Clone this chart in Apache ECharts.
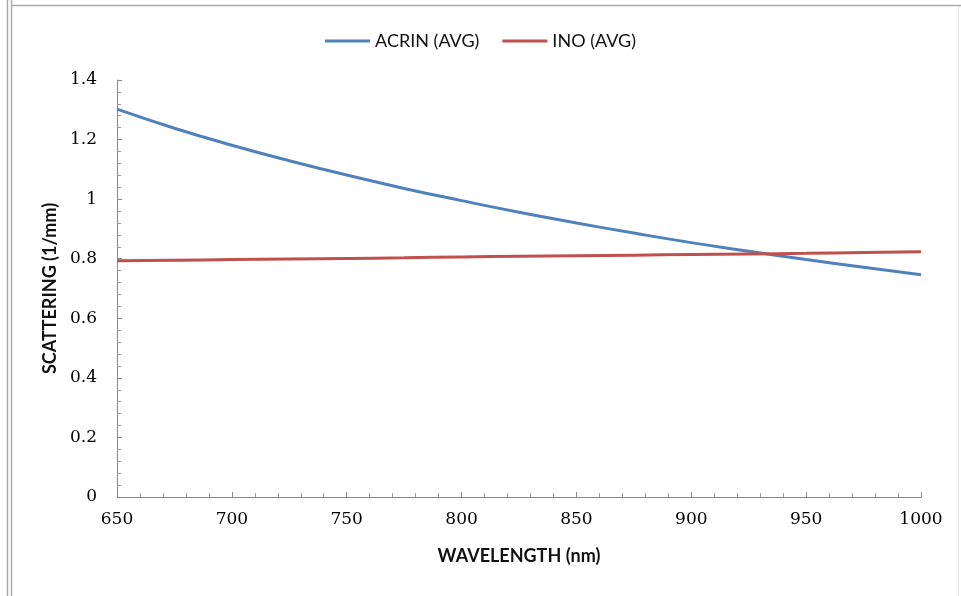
<!DOCTYPE html>
<html>
<head>
<meta charset="utf-8">
<script src="https://cdn.jsdelivr.net/npm/echarts@6/dist/echarts.min.js"></script>
<style>
  html, body { margin: 0; padding: 0; background: #fff; }
  #chart { width: 961px; height: 596px; }
</style>
</head>
<body>
<div id="chart"></div>
<script>
const wavelength = [650, 675, 700, 725, 750, 775, 800, 825, 850, 875, 900, 925, 950, 975, 1000];
const acrin = [1.302, 1.238, 1.181, 1.129, 1.081, 1.036, 0.995, 0.956, 0.920, 0.886, 0.854, 0.825, 0.797, 0.771, 0.746];
const ino = [0.793, 0.795, 0.797, 0.799, 0.801, 0.803, 0.806, 0.808, 0.810, 0.812, 0.814, 0.816, 0.818, 0.821, 0.823];
const seriesNames = ['ACRIN (AVG)', 'INO (AVG)'];

const myChart = echarts.init(document.getElementById('chart'));

const pairs = (ys) => wavelength.map((x, i) => [x, ys[i]]);
const tickFont = { fontFamily: 'DejaVu Serif', fontSize: 17, color: '#000' };
const nameFont = { fontFamily: 'Lato', fontWeight: 'bold', fontSize: 18, color: '#111' };

const option = {
    backgroundColor: '#fff',
    animation: false,
    legend: {
        top: 27,
        left: 'center',
        itemWidth: 45,
        itemHeight: 3,
        itemGap: 23,
        icon: 'rect',
        textStyle: { fontFamily: 'Lato', fontSize: 18, color: '#111' },
        data: seriesNames
    },
    grid: { left: 117, right: 40, top: 80, bottom: 99 },
    xAxis: {
        type: 'value',
        min: 650,
        max: 1000,
        interval: 50,
        name: 'WAVELENGTH (nm)',
        nameLocation: 'middle',
        nameGap: 50,
        nameTextStyle: nameFont,
        axisLine: { lineStyle: { color: '#888', width: 1 } },
        axisTick: { inside: true, length: 5, lineStyle: { color: '#888' } },
        minorTick: { show: true, splitNumber: 5, length: 4, lineStyle: { color: '#999' } },
        axisLabel: Object.assign({ margin: 14, formatter: (v) => String(v) }, tickFont),
        splitLine: { show: false }
    },
    yAxis: {
        type: 'value',
        min: 0,
        max: 1.4,
        interval: 0.2,
        name: 'SCATTERING (1/mm)',
        nameLocation: 'middle',
        nameGap: 53,
        nameTextStyle: nameFont,
        axisLine: { show: true, lineStyle: { color: '#888', width: 1 } },
        axisTick: { show: true, inside: true, length: 5, lineStyle: { color: '#888' } },
        minorTick: { show: true, splitNumber: 5, length: 4, lineStyle: { color: '#999' } },
        axisLabel: Object.assign({ margin: 20 }, tickFont),
        splitLine: { show: false }
    },
    series: [
        {
            name: seriesNames[0],
            type: 'line',
            smooth: true,
            showSymbol: false,
            data: pairs(acrin),
            itemStyle: { color: '#4F81BD' },
            lineStyle: { color: '#4F81BD', width: 3 }
        },
        {
            name: seriesNames[1],
            type: 'line',
            smooth: true,
            showSymbol: false,
            data: pairs(ino),
            itemStyle: { color: '#C0504D' },
            lineStyle: { color: '#C0504D', width: 3 }
        }
    ],
    graphic: [
        // outer frame from the screenshot
        { type: 'line', shape: { x1: 7.5, y1: 0, x2: 7.5, y2: 596 }, style: { stroke: '#aaa', lineWidth: 1.5 } },
        { type: 'line', shape: { x1: 11.5, y1: 0, x2: 11.5, y2: 596 }, style: { stroke: '#aaa', lineWidth: 1.5 } },
        { type: 'line', shape: { x1: 11, y1: 5.5, x2: 961, y2: 5.5 }, style: { stroke: '#aaa', lineWidth: 1.5 } },
        { type: 'line', shape: { x1: 958.5, y1: 6, x2: 958.5, y2: 596 }, style: { stroke: '#e4e4e4', lineWidth: 1 } }
    ]
};

myChart.setOption(option);
</script>
</body>
</html>
